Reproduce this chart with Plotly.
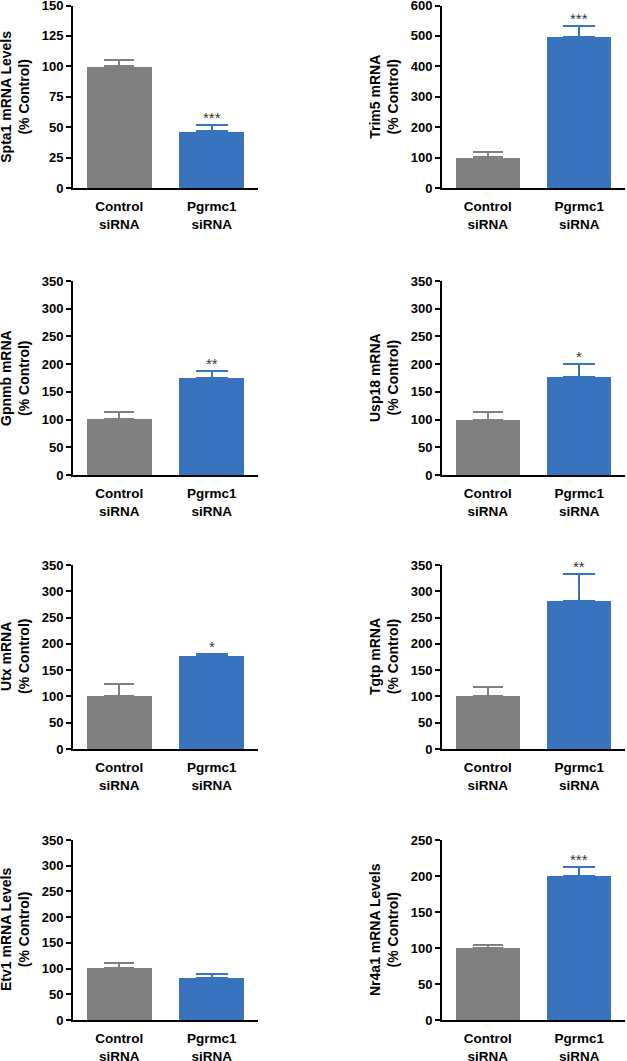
import plotly.graph_objects as go

# ---------------- data ----------------
categories = ["Control<br>siRNA", "Pgrmc1<br>siRNA"]
genes = ["Spta1", "Trim5", "Gpnmb", "Usp18", "Utx", "Tgtp", "Etv1", "Nr4a1"]
y_titles = [
    "Spta1 mRNA Levels<br>(% Control)",
    "Trim5 mRNA<br>(% Control)",
    "Gpnmb mRNA<br>(% Control)",
    "Usp18 mRNA<br>(% Control)",
    "Utx mRNA<br>(% Control)",
    "Tgtp mRNA<br>(% Control)",
    "Etv1 mRNA Levels<br>(% Control)",
    "Nr4a1 mRNA Levels<br>(% Control)",
]
control_mean = [100, 101, 101, 100, 101, 101, 101, 100]
control_err = [5, 17, 13, 14, 23, 17, 9, 4]
pgrmc1_mean = [46.5, 498, 175, 176, 176, 282, 81, 200]
pgrmc1_err = [5.5, 36, 13, 25, 4, 50, 8, 12]
stars = ["***", "***", "**", "*", "*", "**", "", "***"]
y_max = [150, 600, 350, 350, 350, 350, 350, 250]
y_dtick = [25, 100, 50, 50, 50, 50, 50, 50]

# ---------------- styling / layout ----------------
W, H = 627, 1061
GREY = "#808080"
BLUE = "#3A73BD"
FONT = "Liberation Sans, Arial, sans-serif"

col_x = [(73, 258), (442, 625)]
row_y = [(5.5, 188), (281, 475), (565, 749), (840, 1020)]


def clamp(v):
    return max(0.0, min(1.0, v))


fig = go.Figure()

for i, g in enumerate(genes):
    r, c = divmod(i, 2)
    n = i + 1
    xa = "x" if n == 1 else f"x{n}"
    ya = "y" if n == 1 else f"y{n}"
    fig.add_trace(go.Bar(
        x=[categories[0]], y=[control_mean[i]], width=0.7,
        marker=dict(color=GREY, line=dict(width=0)),
        error_y=dict(type="data", array=[control_err[i]], arrayminus=[0],
                     symmetric=False, color=GREY, thickness=2, width=15),
        xaxis=xa, yaxis=ya, showlegend=False, name="Control siRNA",
    ))
    fig.add_trace(go.Bar(
        x=[categories[1]], y=[pgrmc1_mean[i]], width=0.7,
        marker=dict(color=BLUE, line=dict(width=0)),
        error_y=dict(type="data", array=[pgrmc1_err[i]], arrayminus=[0],
                     symmetric=False, color=BLUE, thickness=2, width=16),
        xaxis=xa, yaxis=ya, showlegend=False, name="Pgrmc1 siRNA",
    ))
    x0, x1 = col_x[c]
    y0, y1 = row_y[r]
    xkey = "xaxis" if n == 1 else f"xaxis{n}"
    ykey = "yaxis" if n == 1 else f"yaxis{n}"
    fig.layout[xkey] = dict(
        domain=[clamp(x0 / W), clamp(x1 / W)], anchor=ya, automargin=False,
        type="category", categoryorder="array", categoryarray=categories,
        range=[-0.5, 1.5], showline=True, linecolor="black", linewidth=2,
        ticks="outside", ticklen=5, tickcolor="rgba(0,0,0,0)",
        showgrid=False, zeroline=False,
        tickfont=dict(family=FONT, size=13.5, color="black", weight="bold"),
    )
    fig.layout[ykey] = dict(
        domain=[clamp(1 - y1 / H), clamp(1 - y0 / H)], anchor=xa,
        automargin=False, ticklabeloverflow="allow",
        range=[0, y_max[i]], dtick=y_dtick[i], tick0=0,
        showline=True, linecolor="black", linewidth=2,
        ticks="outside", ticklen=5, tickwidth=2, tickcolor="black",
        showgrid=False, zeroline=False,
        tickfont=dict(family=FONT, size=13, color="black", weight="bold"),
    )
    # y-axis title
    fig.add_annotation(
        text=y_titles[i], xref="paper", yref=f"{ya} domain",
        x=(x0 - 58) / W, y=0.5, xanchor="center", yanchor="middle",
        textangle=-90, showarrow=False,
        font=dict(family=FONT, size=14, color="black", weight="bold"),
    )
    # significance stars
    if stars[i]:
        fig.add_annotation(
            text=stars[i], xref=xa, yref=ya,
            x=categories[1], y=pgrmc1_mean[i] + pgrmc1_err[i],
            xanchor="center", yanchor="bottom", yshift=-3, showarrow=False,
            font=dict(family=FONT, size=15, color="#333333"),
        )

fig.update_layout(
    template="none",
    width=W, height=H, margin=dict(l=0, r=0, t=0, b=0, autoexpand=False),
    paper_bgcolor="white", plot_bgcolor="white", barmode="overlay",
    bargap=0,
)

# remove the browser's default 8px page margin so the figure fills the window
fig.write_html("out.html", config={"displayModeBar": False},
               post_script="document.body.style.margin='0px';")
